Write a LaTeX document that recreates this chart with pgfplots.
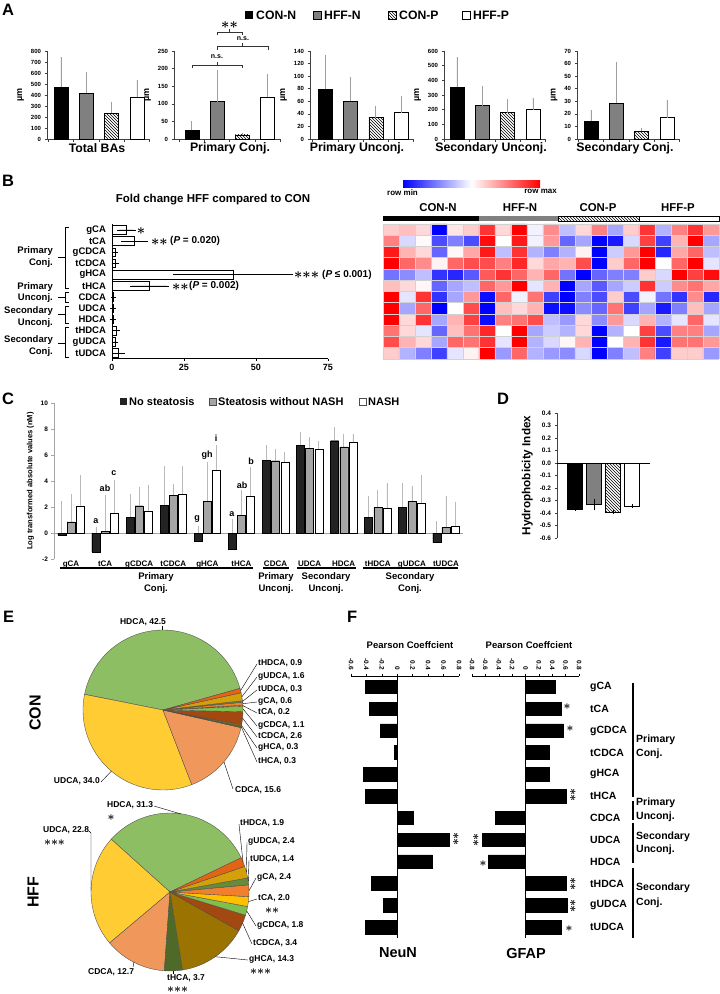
\documentclass[border=0pt]{standalone}
\usepackage{pgfplots}
\pgfplotsset{compat=1.18}
\usepackage{pgfplotstable}
\usetikzlibrary{patterns}
\usepackage{fontspec}
\setmainfont{Liberation Sans}
\newcommand\fs[1]{\fontsize{#1}{#1}\selectfont}
\newcommand\st{{\boldmath$\ast$}}
\definecolor{hffn}{RGB}{128,128,128}
\definecolor{cblk}{RGB}{35,35,35}
\definecolor{cgry}{RGB}{165,165,165}
\definecolor{pc0}{RGB}{141,190,99}
\definecolor{pc1}{RGB}{255,204,51}
\definecolor{pc2}{RGB}{240,152,92}
\definecolor{pc3}{RGB}{79,106,40}
\definecolor{pc4}{RGB}{154,115,0}
\definecolor{pc5}{RGB}{163,72,16}
\definecolor{pc6}{RGB}{128,190,80}
\definecolor{pc7}{RGB}{255,192,0}
\definecolor{pc8}{RGB}{240,128,48}
\definecolor{pc9}{RGB}{100,140,60}
\definecolor{pc10}{RGB}{212,160,10}
\definecolor{pc11}{RGB}{226,100,20}

% pie tables: HDCA UDCA CDCA tHCA gHCA tCDCA gCDCA tCA gCA tUDCA gUDCA tHDCA
\pgfplotstableread{
v
42.5
34.0
15.6
0.3
0.3
2.6
1.1
0.2
0.6
0.3
1.6
0.9
}\pieCON
\pgfplotstableread{
v
31.3
22.8
12.7
3.7
14.3
3.4
1.8
2.0
2.4
1.4
2.4
1.9
}\pieHFF

\pgfplotstableread{
x v e
0 -0.15 2.65
1 -1.45 1.91
2 1.23 1.77
3 2.15 2.98
4 -0.64 1.20
5 -1.22 2.30
6 5.60 1.17
7 6.74 1.03
8 7.10 1.03
9 1.23 1.64
10 1.97 1.90
11 -0.74 1.64
}\Cblack
\pgfplotstableread{
x v e
0 0.85 2.15
1 0.15 2.80
2 2.10 1.46
3 2.87 0.93
4 2.46 3.04
5 1.38 1.95
6 5.56 0.93
7 6.51 0.85
8 6.62 1.02
9 1.95 1.38
10 2.41 1.18
11 0.41 2.41
}\Cgrey
\pgfplotstableread{
x v e
0 2.10 2.40
1 1.49 2.61
2 1.69 2.03
3 2.95 2.18
4 4.85 1.95
5 2.82 2.26
6 5.44 0.79
7 6.41 0.69
8 6.95 0.67
9 1.90 1.95
10 2.31 2.18
11 0.51 1.90
}\Cwhite

\pgfplotsset{
  every axis/.append style={scale only axis, anchor=south west, clip=false,
    /pgf/number format/assume math mode=true,
    tick label style={font=\fs{6.5}\bfseries},
    label style={font=\bfseries},
    tick align=outside, major tick length=2.5pt,
    axis line style={black!75}, tick style={black!75, line width=0.5pt}},
  Aax/.style={height=88pt, xmax=3.5, ymin=0, axis lines*=left,
    xtick={-0.5,0.5,1.5,2.5,3.5}, xticklabels={,,,,,}, ybar, bar width=14pt, bar shift=0pt,
    ylabel={µm}, ylabel style={font=\fs{9}\bfseries},
    tick label style={font=\fs{6}\bfseries}},
  Aerr/.style={error bars/.cd, y dir=plus, y explicit, error mark=none,
    error bar style={gray!75, line width=0.6pt}},
  Cerr/.style={error bars/.cd, y dir=plus, y explicit, error mark=none,
    error bar style={gray!55, line width=0.7pt}},
  Derr/.style={error bars/.cd, y dir=both, y explicit,
    error bar style={black, line width=0.5pt}, error mark options={black, mark size=1.5pt, line width=0.5pt}},
}

\newcommand\Abars[8]{%
 \addplot[fill=black,draw=black,Aerr] coordinates {(0,#1) +- (0,#2)};
 \addplot[fill=hffn,draw=black,Aerr] coordinates {(1,#3) +- (0,#4)};
 \addplot[pattern=north west lines,draw=black,Aerr] coordinates {(2,#5) +- (0,#6)};
 \addplot[fill=white,draw=black,Aerr] coordinates {(3,#7) +- (0,#8)};}

\newcommand\drawpie[3]{%
  \pgfmathsetmacro\pieA{#2}%
  \pgfplotsforeachungrouped \pieI in {0,...,11}{%
    \pgfplotstablegetelem{\pieI}{v}\of{#1}\let\pieV\pgfplotsretval
    \pgfmathsetmacro\pieB{\pieA+3.6*\pieV}%
    \edef\piecmd{\noexpand\filldraw[fill=pc\pieI, draw=black!70, line width=0.35pt] (axis cs:0,0) -- (axis cs:{cos(\pieA)},{sin(\pieA)}) arc[start angle=\pieA, end angle=\pieB, radius=#3] -- cycle;}%
    \piecmd
    \let\pieA\pieB
  }%
}

\begin{document}
\begin{tikzpicture}[x=1pt,y=-1pt]
\useasboundingbox (0,0) rectangle (720,994);

% panel letters
\foreach \L/\X/\Y in {A/2/10, B/2/181, C/2/399, D/497/399, E/3/617, F/347/617}
  \node[anchor=west, inner sep=0, font=\fs{16.5}\bfseries] at (\X,\Y) {\L};

% ================= A =================
\begin{scope}[font=\fs{12.2}\bfseries]
\fill[black] (245,11) rectangle (253,19);
\node[anchor=west,inner sep=0] at (256,15) {CON-N};
\filldraw[fill=hffn, draw=black, line width=0.4pt] (313,11) rectangle (321,19);
\node[anchor=west,inner sep=0] at (324,15) {HFF-N};
\draw[pattern=north west lines, line width=0.4pt] (388,11) rectangle (396,19);
\node[anchor=west,inner sep=0] at (399,15) {CON-P};
\draw[line width=0.4pt] (462,11) rectangle (470,19);
\node[anchor=west,inner sep=0] at (473,15) {HFF-P};
\end{scope}

\begin{axis}[Aax, at={(47pt,-139pt)}, xmin=-0.55, width=102.5pt, ymax=800, ytick={0,100,...,800}]
\Abars{475}{275}{420}{190}{235}{105}{380}{155}
\end{axis}
\begin{axis}[Aax, at={(174pt,-139pt)}, xmin=-0.7, width=106.3pt, ymax=250, ytick={0,50,...,250}]
\Abars{25}{25}{106}{89}{12}{5}{120}{66}
\end{axis}
\begin{axis}[Aax, at={(310pt,-139pt)}, xmin=-0.6, width=103.7pt, ymax=140, ytick={0,20,...,140}]
\Abars{80}{53}{60}{38}{34}{19}{42}{26}
\end{axis}
\begin{axis}[Aax, at={(444pt,-139pt)}, xmin=-0.51, width=101.5pt, ymax=600, ytick={0,100,...,600}]
\Abars{355}{202}{228}{132}{180}{90}{200}{82}
\end{axis}
\begin{axis}[Aax, at={(577pt,-139pt)}, xmin=-0.55, width=102.5pt, ymax=70, ytick={0,10,...,70}]
\Abars{14}{9}{28.5}{32.5}{6}{3}{17}{14}
\end{axis}

\begin{scope}[font=\fs{12.3}\bfseries]
\node at (97,148) {Total BAs};
\node at (230,148) {Primary Conj.};
\node at (357,148) {Primary Unconj.};
\node at (491,148) {Secondary Unconj.};
\node at (625,148) {Secondary Conj.};
\end{scope}
% significance brackets
\draw[black!80, line width=0.5pt] (217,35) -- (217,32) -- (242,32) -- (242,35) (229.5,32) -- (229.5,29);
\node[font=\fs{14}] at (229.5,25) {\st\st};
\draw[black!80, line width=0.5pt] (217,50) -- (217,46) -- (268,46) -- (268,50) (242.5,46) -- (242.5,43);
\node[font=\fs{7}\bfseries] at (243,39) {n.s.};
\draw[black!80, line width=0.5pt] (192,68) -- (192,65) -- (242,65) -- (242,68) (217,65) -- (217,62);
\node[font=\fs{7}\bfseries] at (217,57) {n.s.};

% ================= B =================
\node[font=\fs{11.5}\bfseries] at (213,200) {Fold change HFF compared to CON};
\begin{axis}[at={(112pt,-358.6pt)}, width=216pt, height=134.4pt, xmin=0, xmax=75, ymin=-0.5, ymax=11.5,
  axis lines*=left, axis line style={black}, tick style={black}, xtick={0,25,50,75}, ytick={0,...,11},
  yticklabels={tUDCA,gUDCA,tHDCA,HDCA,UDCA,CDCA,tHCA,gHCA,tCDCA,gCDCA,tCA,gCA},
  yticklabel style={font=\fs{9.5}\bfseries}, xticklabel style={font=\fs{9}\bfseries},
  ytick style={draw=none}, xbar, bar width=8.5pt, bar shift=0pt]
\addplot[fill=white, draw=black, line width=0.6pt, error bars/.cd, x dir=both, x explicit,
  error bar style={black, line width=0.6pt}, error mark options={black, mark size=2.5pt, line width=0.6pt}]
  table[x=v, y=y, x error=e]{
y v e
11 5.0 2.5
10 7.8 3.8
9 1.0 0.3
8 1.2 0.5
7 42.0 20.0
6 13.0 6.0
5 0.5 0.15
4 0.3 0.1
3 0.3 0.1
2 1.5 0.5
1 1.0 0.3
0 2.2 1.3
};
\end{axis}
\node[font=\fs{15}] at (141,231) {\st};
\node[anchor=west, inner sep=0, font=\fs{15}] at (151,242) {\st\st};
\node[anchor=west, inner sep=0, font=\fs{10}\bfseries] at (170,241) {(\textit{P} = 0.020)};
\node[anchor=west, inner sep=0, font=\fs{15}] at (294,275.5) {\st\st\st};
\node[anchor=west, inner sep=0, font=\fs{10}\bfseries] at (322,274.5) {(\textit{P} ≤ 0.001)};
\node[anchor=west, inner sep=0, font=\fs{15}] at (172,287) {\st\st};
\node[anchor=west, inner sep=0, font=\fs{10}\bfseries] at (189,286) {(\textit{P} = 0.002)};
% group brackets
\begin{scope}[line width=0.7pt]
\draw (69,227) -- (65,227) -- (65,288) -- (69,288) (65,257) -- (58,257);
\draw (69,292) -- (65,292) -- (65,302) -- (69,302) (65,297) -- (58,297);
\draw (69,306) -- (65,306) -- (65,323) -- (69,323) (65,314) -- (58,314);
\draw (69,327) -- (65,327) -- (65,357) -- (69,357) (65,343) -- (58,343);
\end{scope}
\begin{scope}[font=\fs{9.5}\bfseries]
\node[anchor=east,inner sep=0] at (53,251) {Primary};
\node[anchor=east,inner sep=0] at (53,263) {Conj.};
\node[anchor=east,inner sep=0] at (53,287) {Primary};
\node[anchor=east,inner sep=0] at (53,298) {Unconj.};
\node[anchor=east,inner sep=0] at (53,311) {Secondary};
\node[anchor=east,inner sep=0] at (53,323) {Unconj.};
\node[anchor=east,inner sep=0] at (53,340) {Secondary};
\node[anchor=east,inner sep=0] at (53,352) {Conj.};
\end{scope}

% heatmap
\shade[left color=blue, right color=red, middle color=white] (403,180) rectangle (540,187);
\node[font=\fs{8}\bfseries, anchor=north west, inner sep=0] at (387,189) {row min};
\node[font=\fs{8}\bfseries, anchor=north east, inner sep=0] at (557,189) {row max};
\begin{scope}[font=\fs{11.4}\bfseries]
\node at (438,208) {CON-N};
\node at (520,208) {HFF-N};
\node at (598,208) {CON-P};
\node at (678,208) {HFF-P};
\end{scope}
\fill[black] (383,216) rectangle (479,221);
\fill[hffn] (479,216) rectangle (558,221);
\draw[pattern=north west lines, line width=0.4pt] (558,216) rectangle (639,221);
\draw[line width=0.5pt] (639,216) rectangle (719,221);
\begin{axis}[at={(383pt,-359pt)}, width=336pt, height=135pt, xmin=-0.5, xmax=20.5, ymin=-0.5, ymax=11.5,
  y dir=reverse, hide axis,
  colormap={hm}{rgb255=(0,0,255) rgb255=(255,255,255) rgb255=(255,0,0)},
  point meta min=-1, point meta max=1]
\addplot[matrix plot*, mesh/cols=21, point meta=explicit]
 table[row sep=\\, x expr={round(mod(\coordindex+0.1,21)-0.1)}, y expr={floor((\coordindex+0.5)/21)}, meta=c]{
c\\
0.2\\0.25\\0.15\\-1\\0.1\\0.2\\0.8\\0.15\\1\\-0.05\\0.45\\-0.25\\0.15\\0.5\\-0.35\\0.2\\0.8\\-0.3\\0.5\\0.8\\0.4\\
0.5\\-0.15\\0.02\\-0.7\\-0.5\\-0.7\\0.95\\0\\0.9\\-0.05\\0.4\\-0.6\\-0.35\\-1\\-0.9\\-0.15\\0.75\\-0.75\\0.3\\1\\-0.35\\
0.9\\0.3\\0.15\\-0.6\\0.03\\0.35\\0.9\\-0.25\\0.8\\-0.3\\-0.5\\-0.3\\0.05\\-1\\-0.2\\0.4\\1\\-0.85\\0.35\\0.6\\-0.25\\
1\\0.6\\0.45\\0.05\\0.6\\0.7\\0.7\\0.5\\0.85\\0.15\\0.35\\0.3\\0.7\\-1\\0.2\\0.6\\1\\0\\0.6\\1\\-0.1\\
-0.55\\-0.45\\-0.25\\-0.8\\-0.85\\-0.65\\0.65\\0.8\\0.6\\0.3\\0.6\\-0.55\\-1\\-0.6\\-0.5\\-0.5\\0.2\\-0.15\\1\\0.75\\0.95\\
0.25\\0.15\\0.03\\-0.6\\-0.35\\-0.25\\0.6\\0.4\\1\\-0.1\\0.3\\-1\\-0.35\\-0.65\\-0.35\\-0.2\\0.8\\-0.2\\0.45\\0.55\\0.35\\
1\\-0.1\\0.8\\-0.8\\-0.35\\0.4\\-0.95\\0.6\\-0.05\\0.55\\-0.75\\-1\\-0.5\\-0.7\\0.2\\-0.7\\-0.05\\-0.55\\-0.8\\0.45\\-0.85\\
1\\-0.35\\0.6\\-1\\0\\0.7\\-1\\0.25\\0.15\\0.3\\-0.95\\-0.95\\-0.45\\-0.6\\0.55\\-0.75\\-0.35\\-0.9\\-0.5\\0.25\\-0.35\\
1\\0.15\\0.8\\-0.35\\0.3\\0.75\\-0.95\\0.5\\0.55\\0.7\\-0.25\\-0.4\\0.15\\-0.45\\0.4\\-0.15\\0.3\\-0.3\\-0.1\\0.6\\-0.1\\
0.55\\0.15\\-0.1\\-0.6\\0.25\\0.55\\0.85\\0\\1\\-0.35\\-0.2\\-0.3\\0.15\\-1\\-0.3\\0\\0.75\\-0.7\\0.5\\0.5\\-0.35\\
0.7\\0.3\\0.15\\-0.35\\0.6\\0.55\\0.8\\-0.1\\1\\-0.3\\-0.15\\0.03\\0.3\\-1\\0\\0.3\\0.8\\-0.9\\0.55\\0.55\\0.4\\
0.2\\-0.3\\-0.5\\-0.75\\-0.1\\0.05\\1\\-0.4\\0.6\\-0.3\\-0.4\\-0.45\\-0.15\\-1\\-0.5\\-0.25\\0.5\\-0.75\\0.2\\0.2\\-0.4\\
};
\pgfplotsinvokeforeach{0,...,21}{\draw[gray!35, line width=0.8pt] (axis cs:{#1-0.5},-0.5) -- (axis cs:{#1-0.5},11.5);}
\pgfplotsinvokeforeach{0,...,12}{\draw[gray!35, line width=0.8pt] (axis cs:-0.5,{#1-0.5}) -- (axis cs:20.5,{#1-0.5});}
\end{axis}

% ================= C =================
\begin{scope}[font=\fs{11}\bfseries]
\fill[cblk] (120,398) rectangle (127,405);
\node[anchor=west,inner sep=0] at (129,401.5) {No steatosis};
\filldraw[fill=cgry,draw=black!70,line width=0.4pt] (209,398) rectangle (216,405);
\node[anchor=west,inner sep=0] at (218,401.5) {Steatosis without NASH};
\draw[black!70,line width=0.4pt] (359,398) rectangle (366,405);
\node[anchor=west,inner sep=0] at (368,401.5) {NASH};
\end{scope}
\begin{axis}[at={(54pt,-559pt)}, width=409pt, height=156pt, xmin=-0.5, xmax=11.5, ymin=-2, ymax=10,
  ytick={-2,0,2,4,6,8,10}, axis y line*=left, axis x line*=bottom, x axis line style={draw=none},
  xtick={0,...,11}, xtick style={draw=none},
  xticklabels={gCA,tCA,gCDCA,tCDCA,gHCA,tHCA,CDCA,UDCA,HDCA,tHDCA,gUDCA,tUDCA},
  xticklabel style={font=\fs{8}\bfseries, yshift=4.5pt},
  axis line style={gray!70}, ytick style={gray!70},
  ylabel={Log transformed absolute values (nM)}, ylabel style={font=\fs{7.6}\bfseries},
  ybar, bar width=8pt]
\draw[gray!70, line width=0.6pt] (axis cs:-0.5,0) -- (axis cs:11.5,0);
\addplot[fill=cblk, draw=black, bar shift=-9.2pt, Cerr] table[x=x,y=v,y error=e]{\Cblack};
\addplot[fill=cgry, draw=black, bar shift=0pt, Cerr] table[x=x,y=v,y error=e]{\Cgrey};
\addplot[fill=white, draw=black, bar shift=9.2pt, Cerr] table[x=x,y=v,y error=e]{\Cwhite};
\addplot[fill=cblk, draw=black, bar shift=-9.2pt] table[x=x,y=v]{\Cblack};
\addplot[fill=cgry, draw=black, bar shift=0pt] table[x=x,y=v]{\Cgrey};
\addplot[fill=white, draw=black, bar shift=9.2pt] table[x=x,y=v]{\Cwhite};
\end{axis}
\begin{scope}[font=\fs{9}\bfseries]
\node at (96,521) {a}; \node at (105,488) {ab}; \node at (114,473) {c};
\node at (197,519) {g}; \node at (207,455) {gh}; \node at (216,438) {i};
\node at (232,514) {a}; \node at (242,485) {ab}; \node at (251,461) {b};
\end{scope}
\begin{scope}[line width=2.5pt]
\draw (60,568) -- (253,568);
\draw (263,568) -- (289,568);
\draw (297,568) -- (356,568);
\draw (363,568) -- (458,568);
\end{scope}
\begin{scope}[font=\fs{9.5}\bfseries]
\node at (156,577) {Primary}; \node at (156,589) {Conj.};
\node at (276,577) {Primary}; \node at (276,589) {Unconj.};
\node at (326,577) {Secondary}; \node at (326,589) {Unconj.};
\node at (410,577) {Secondary}; \node at (410,589) {Conj.};
\end{scope}

% ================= D =================
\begin{axis}[at={(557pt,-538pt)}, width=93pt, height=125pt, xmin=-0.95, xmax=3.95, ymin=-0.6, ymax=0.4,
  ytick={-0.6,-0.5,-0.4,-0.3,-0.2,-0.1,0,0.1,0.2,0.3,0.4},
  axis y line*=left, axis x line=none, axis line style={black!75},
  yticklabel style={font=\fs{6.5}\bfseries, /pgf/number format/fixed, /pgf/number format/fixed zerofill, /pgf/number format/precision=1},
  ylabel={Hydrophobicity Index}, ylabel style={font=\fs{11.7}\bfseries},
  ybar, bar width=15pt, bar shift=0pt]
\draw[black, line width=0.8pt] (axis cs:-0.95,0) -- (axis cs:3.95,0);
\addplot[fill=black,draw=black,Derr] coordinates {(0,-0.368) +- (0,0.002)};
\addplot[fill=hffn,draw=black,Derr] coordinates {(1,-0.33) +- (0,0.03)};
\addplot[pattern=north west lines,draw=black,Derr] coordinates {(2,-0.39) +- (0,0.005)};
\addplot[fill=white,draw=black,Derr] coordinates {(3,-0.343) +- (0,0.005)};
\end{axis}

% ================= E =================
\begin{axis}[at={(163pt,-710pt)}, anchor=center, width=160pt, height=160pt, xmin=-1, xmax=1, ymin=-1, ymax=1, hide axis]
\drawpie{\pieCON}{15.7}{80pt}
\end{axis}
\begin{axis}[at={(170pt,-892pt)}, anchor=center, width=158pt, height=158pt, xmin=-1, xmax=1, ymin=-1, ymax=1, hide axis]
\drawpie{\pieHFF}{25.4}{79pt}
\end{axis}
\node[rotate=90, font=\fs{16}\bfseries] at (35,713) {CON};
\node[rotate=90, font=\fs{16}\bfseries] at (33,892) {HFF};
\begin{scope}[font=\fs{8.5}\bfseries]
% CON labels
\node[inner sep=0] at (143,622) {HDCA, 42.5};
\draw[line width=0.4pt] (162,626) -- (162,630);
\foreach \t/\y/\px/\py in {{tHDCA, 0.9}/663/240.6/690.5, {gUDCA, 1.6}/676/241.9/696.7, {tUDCA, 0.3}/689/242.5/701.4,
  {gCA, 0.6}/701/242.7/703.7, {tCA, 0.2}/712/242.9/705.6, {gCDCA, 1.1}/725/243/708.9, {tCDCA, 2.6}/736/242.6/718.2,
  {gHCA, 0.3}/747/241.5/725.4, {tHCA, 0.3}/761/241.2/726.8}{
  \node[anchor=west,inner sep=0] at (258,\y) {\t};
  \draw[line width=0.4pt] (257,\y+1) -- (\px,\py);
}
\node[anchor=east,inner sep=0] at (100,781) {UDCA, 34.0};
\draw[line width=0.4pt] (101,782) -- (111.5,771);
\node[anchor=west,inner sep=0] at (235,790) {CDCA, 15.6};
\draw[line width=0.4pt] (233,789) -- (224,762);
% HFF labels
\node[anchor=west,inner sep=0] at (107,805) {HDCA, 31.3};
\draw[line width=0.4pt] (154,806) -- (181,814);
\node[anchor=west,inner sep=0] at (43,830) {UDCA, 22.8};
\draw[line width=0.4pt] (89,831) -- (91,833) -- (91,891);
\foreach \t/\y/\lx/\px/\py in {{tHDCA, 1.9}/823/240/243/862, {gUDCA, 2.4}/841/248/246.4/872, {tUDCA, 1.4}/859/250/248.3/881.3,
  {gCA, 2.4}/877/257/249/890.7, {tCA, 2.0}/898/258/248.4/901.6, {gCDCA, 1.8}/925/257/246.7/910.9,
  {tCDCA, 3.4}/943/253/242.6/923.1, {gHCA, 14.3}/959/249/215.3/956.7}{
  \node[anchor=west,inner sep=0] at (\lx,\y) {\t};
  \draw[line width=0.4pt] (\lx-1,\y+1) -- (\px,\py);
}
\node[anchor=west,inner sep=0] at (88,972) {CDCA, 12.7};
\draw[line width=0.4pt] (133,967) -- (134,962);
\node[anchor=west,inner sep=0] at (167,978) {tHCA, 3.7};
\draw[line width=0.4pt] (173,974) -- (173,971);
\end{scope}
\begin{scope}[font=\fs{13}]
\node[inner sep=0] at (111,818) {\st};
\node[anchor=west,inner sep=0] at (44,843) {\st\st\st};
\node[anchor=west,inner sep=0] at (265,911) {\st\st};
\node[anchor=west,inner sep=0] at (250,972) {\st\st\st};
\node[anchor=west,inner sep=0] at (167,990) {\st\st\st};
\end{scope}

% ================= F =================
\node[font=\fs{9.5}\bfseries] at (410,645) {Pearson Coeffcient};
\node[font=\fs{9.5}\bfseries] at (529,645) {Pearson Coeffcient};
\begin{axis}[at={(351pt,-938pt)}, width=108pt, height=262pt, xmin=-0.6, xmax=0.8, ymin=-0.5, ymax=11.5,
  axis x line*=top, axis y line=none, axis line style={black}, tick style={black},
  xtick={-0.6,-0.4,-0.2,0,0.2,0.4,0.6,0.8},
  xticklabel style={rotate=-90, anchor=east, font=\fs{6.5}\bfseries, /pgf/number format/fixed},
  xbar, bar width=13.5pt, bar shift=0pt]
\addplot[fill=black, draw=black] table[x=v,y=y]{
y v
11 -0.41
10 -0.36
9 -0.22
8 -0.035
7 -0.44
6 -0.41
5 0.21
4 0.67
3 0.45
2 -0.34
1 -0.18
0 -0.41
};
\draw[black, line width=1pt] (axis cs:0,-0.5) -- (axis cs:0,11.5);
\end{axis}
\begin{axis}[at={(472pt,-938pt)}, width=107pt, height=262pt, xmin=-0.8, xmax=0.8, ymin=-0.5, ymax=11.5,
  axis x line*=top, axis y line=none, axis line style={black}, tick style={black},
  xtick={-0.8,-0.6,-0.4,-0.2,0,0.2,0.4,0.6,0.8},
  xticklabel style={rotate=-90, anchor=east, font=\fs{6.5}\bfseries, /pgf/number format/fixed},
  xbar, bar width=13.5pt, bar shift=0pt]
\addplot[fill=black, draw=black] table[x=v,y=y]{
y v
11 0.45
10 0.53
9 0.57
8 0.35
7 0.36
6 0.61
5 -0.45
4 -0.65
3 -0.56
2 0.61
1 0.62
0 0.54
};
\draw[black, line width=1pt] (axis cs:0,-0.5) -- (axis cs:0,11.5);
\end{axis}
\begin{scope}[font=\fs{13}]
\node[rotate=90] at (456,839) {\st\st};
\node at (567,707) {\st};
\node at (570,729) {\st};
\node[rotate=90] at (573,795) {\st\st};
\node[rotate=90] at (476,840) {\st\st};
\node at (483,864) {\st};
\node[rotate=90] at (573,884) {\st\st};
\node[rotate=90] at (573,906) {\st\st};
\node at (569,929) {\st};
\end{scope}
\foreach \n [count=\i from 0] in {gCA,tCA,gCDCA,tCDCA,gHCA,tHCA,CDCA,UDCA,HDCA,tHDCA,gUDCA,tUDCA}
  \node[anchor=west, inner sep=0, font=\fs{10.5}\bfseries] at (590,{687+21.83*\i}) {\n};
\begin{scope}[line width=2pt]
\draw (633,683) -- (633,797);
\draw (633,801) -- (633,820);
\draw (633,823) -- (633,863);
\draw (633,868) -- (633,938);
\end{scope}
\begin{scope}[font=\fs{10.5}\bfseries]
\node[anchor=west,inner sep=0] at (636,740) {Primary};
\node[anchor=west,inner sep=0] at (636,754) {Conj.};
\node[anchor=west,inner sep=0] at (636,803) {Primary};
\node[anchor=west,inner sep=0] at (636,817) {Unconj.};
\node[anchor=west,inner sep=0] at (636,837) {Secondary};
\node[anchor=west,inner sep=0] at (636,850) {Unconj.};
\node[anchor=west,inner sep=0] at (636,888) {Secondary};
\node[anchor=west,inner sep=0] at (636,903) {Conj.};
\end{scope}
\node[font=\fs{14.5}\bfseries] at (398,953) {NeuN};
\node[font=\fs{14.5}\bfseries] at (526,953) {GFAP};
\end{tikzpicture}
\end{document}
